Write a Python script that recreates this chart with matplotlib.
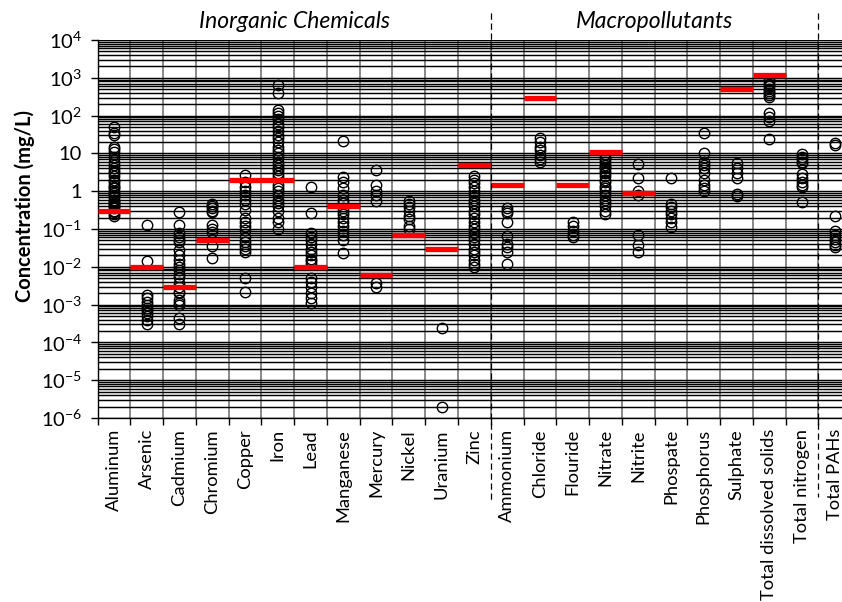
import numpy as np
import matplotlib
matplotlib.use("Agg")
import matplotlib.pyplot as plt
from matplotlib.ticker import LogLocator, FixedLocator, NullFormatter, FixedFormatter
import matplotlib.transforms as mtransforms

plt.rcParams['font.family'] = ['Lato', 'DejaVu Sans']
plt.rcParams['mathtext.fontset'] = 'custom'
plt.rcParams['mathtext.rm'] = 'Lato'
plt.rcParams['mathtext.it'] = 'Lato:italic'

categories = ['Aluminum', 'Arsenic', 'Cadmium', 'Chromium', 'Copper', 'Iron', 'Lead',
              'Manganese', 'Mercury', 'Nickel', 'Uranium', 'Zinc', 'Ammonium', 'Chloride',
              'Flouride', 'Nitrate', 'Nitrite', 'Phospate', 'Phosphorus', 'Sulphate',
              'Total dissolved solids', 'Total nitrogen', 'Total PAHs']

aluminum = [50, 35, 30, 15, 13, 11, 8, 6, 5, 4, 3.5, 3, 2.5, 2, 1.8, 1.5, 1.3, 1.2, 1.0,
            0.9, 0.8, 0.7, 0.6, 0.55, 0.5, 0.45, 0.4, 0.35, 0.3, 0.28, 0.25, 0.22]
arsenic = [0.13, 0.014, 0.0018, 0.0015, 0.0012, 0.001, 0.0008, 0.0007, 0.0006, 0.0005,
           0.0004, 0.0003]
cadmium = [0.29, 0.13, 0.08, 0.06, 0.05, 0.045, 0.028, 0.02, 0.015, 0.012, 0.01, 0.008,
           0.0065, 0.0055, 0.0037, 0.003, 0.0022, 0.002, 0.0013, 0.0011, 0.001, 0.00045,
           0.0003]
chromium = [0.45, 0.4, 0.35, 0.3, 0.28, 0.13, 0.1, 0.085, 0.035, 0.017]
copper = [2.7, 1.7, 1.3, 1.0, 0.8, 0.6, 0.45, 0.32, 0.2, 0.15, 0.12, 0.095, 0.06, 0.045,
          0.035, 0.03, 0.025, 0.005, 0.0022]
iron = [650, 400, 140, 120, 100, 80, 60, 50, 40, 30, 25, 20, 15, 12, 10, 8, 6, 5, 4, 3.6,
        3, 2.5, 1.5, 1.2, 1.0, 0.8, 0.6, 0.5, 0.4, 0.3, 0.2, 0.15, 0.1]
lead = [1.3, 0.27, 0.08, 0.06, 0.05, 0.04, 0.03, 0.025, 0.02, 0.016, 0.014, 0.012, 0.005,
        0.004, 0.003, 0.002, 0.0015, 0.0011]
manganese = [21, 2.4, 1.7, 1.2, 0.8, 0.6, 0.5, 0.36, 0.3, 0.25, 0.2, 0.15, 0.12, 0.09,
             0.07, 0.05, 0.023]
mercury = [3.6, 1.45, 1.0, 0.8, 0.55, 0.0037, 0.003]
nickel = [0.55, 0.45, 0.38, 0.3, 0.22, 0.18, 0.12, 0.1]
uranium = [0.00024, 0.0000019]
zinc = [2.5, 2.0, 1.6, 1.3, 1.0, 0.8, 0.6, 0.5, 0.4, 0.3, 0.25, 0.2, 0.15, 0.12, 0.1,
        0.08, 0.06, 0.05, 0.04, 0.03, 0.025, 0.02, 0.015, 0.012, 0.01]
ammonium = [0.37, 0.3, 0.27, 0.15, 0.065, 0.04, 0.033, 0.025, 0.012]
chloride = [25, 20, 15, 12, 9, 7, 6]
flouride = [0.15, 0.12, 0.09, 0.07, 0.06]
nitrate = [8, 7, 6, 5, 4.5, 4, 3.5, 3, 2.5, 2, 1.7, 1.4, 1.2, 1, 0.8, 0.6, 0.5, 0.4, 0.3,
           0.25]
nitrite = [5.2, 2.3, 1.0, 0.8, 0.07, 0.037, 0.025]
phospate = [2.3, 0.45, 0.38, 0.3, 0.25, 0.2, 0.15, 0.11]
phosphorus = [35, 10.5, 6, 5, 4, 3, 2, 1.5, 1.2, 1.0]
sulphate = [5.5, 4, 3, 2.2, 0.85, 0.75]
tds = [900, 800, 700, 600, 500, 450, 400, 350, 320, 120, 90, 70, 24]
total_nitrogen = [9.5, 8, 7, 6, 5.5, 2.8, 2.2, 1.7, 1.5, 1.3, 0.52]
total_pahs = [19, 17, 0.22, 0.09, 0.07, 0.055, 0.045, 0.038, 0.033]

measurements = [aluminum, arsenic, cadmium, chromium, copper, iron, lead, manganese,
                mercury, nickel, uranium, zinc, ammonium, chloride, flouride, nitrate,
                nitrite, phospate, phosphorus, sulphate, tds, total_nitrogen, total_pahs]

# guideline values (red bars), nan where there is none
guidelines = [0.3, 0.01, 0.003, 0.05, 2, 2, 0.01, 0.4, 0.006, 0.07, 0.03, 5, 1.5, 300,
              1.5, 11, 0.9, np.nan, np.nan, 500, 1200, np.nan, np.nan]

groups = ['Inorganic Chemicals', 'Macropollutants']
group_spans = [(0, 11), (12, 21)]

ytick_vals = [1e4, 1e3, 1e2, 10, 1, 0.1, 1e-2, 1e-3, 1e-4, 1e-5, 1e-6]
ytick_labels = ['$10^{4}$', '$10^{3}$', '$10^{2}$', '10', '1', '$10^{-1}$', '$10^{-2}$',
                '$10^{-3}$', '$10^{-4}$', '$10^{-5}$', '$10^{-6}$']

fig = plt.figure(figsize=(8.42, 6.02), dpi=100)
ax = fig.add_axes([97.5 / 842, 184 / 602, 753.7 / 842, 378 / 602])
ax.set_yscale('log')
ax.set_ylim(1e-6, 1e4)
ax.set_xlim(-0.5, len(categories) - 0.5)

# horizontal grid at every minor/major tick
ax.yaxis.set_major_locator(FixedLocator(ytick_vals))
ax.yaxis.set_major_formatter(FixedFormatter(ytick_labels))
ax.yaxis.set_minor_locator(LogLocator(base=10, subs=np.arange(2, 10), numticks=100))
ax.yaxis.set_minor_formatter(NullFormatter())
ax.grid(axis='y', which='both', color='black', linewidth=1.05, zorder=0)
ax.tick_params(axis='y', which='minor', length=0)
ax.tick_params(axis='y', which='major', length=5, width=1, labelsize=14.5, pad=6)

# category boundaries as gray verticals and ticks
bounds = np.arange(len(categories) + 1) - 0.5
ax.set_xticks(bounds)
ax.set_xticklabels([])
ax.set_xticks(np.arange(len(categories)), minor=True)
ax.set_xticklabels(categories, minor=True, rotation=90, fontsize=13.2, va='top')
ax.tick_params(axis='x', which='major', length=5, width=1)
ax.tick_params(axis='x', which='minor', length=0, pad=8)
for b in bounds[1:-1]:
    ax.axvline(b, color='#808080', linewidth=1.3, zorder=1)

for s in ['top', 'right']:
    ax.spines[s].set_visible(False)
ax.spines['left'].set_linewidth(1)
ax.spines['bottom'].set_linewidth(1)

# data points
for i, vals in enumerate(measurements):
    ax.plot([i] * len(vals), vals, 'o', markerfacecolor='none', markeredgecolor='black',
            markersize=7.5, markeredgewidth=1.0, zorder=3)

# guideline bars
for i, g in enumerate(guidelines):
    if not np.isnan(g):
        ax.hlines(g, i - 0.5, i + 0.5, color='red', linewidth=3.8, zorder=4)

# group separators and titles
trans = mtransforms.blended_transform_factory(ax.transData, ax.transAxes)
ax.plot([11.5, 11.5], [1.072, -0.225], transform=trans, color='black', linestyle='--',
        linewidth=0.9, dashes=(5, 3), clip_on=False, zorder=5)
ax.plot([21.5, 21.5], [1.072, -0.209], transform=trans, color='black', linestyle='--',
        linewidth=0.9, dashes=(5, 3), clip_on=False, zorder=5)
for name, (a, b) in zip(groups, group_spans):
    ax.text((a + b) / 2, 1.05, name, transform=trans, ha='center', va='center',
            fontsize=16.5, style='italic')

fig.text(25 / 842, 1 - 206 / 602, 'Concentration (mg/L)', rotation=90, ha='center',
         va='center', fontsize=14.5, fontweight='bold')

fig.savefig('out.png', dpi=100)
